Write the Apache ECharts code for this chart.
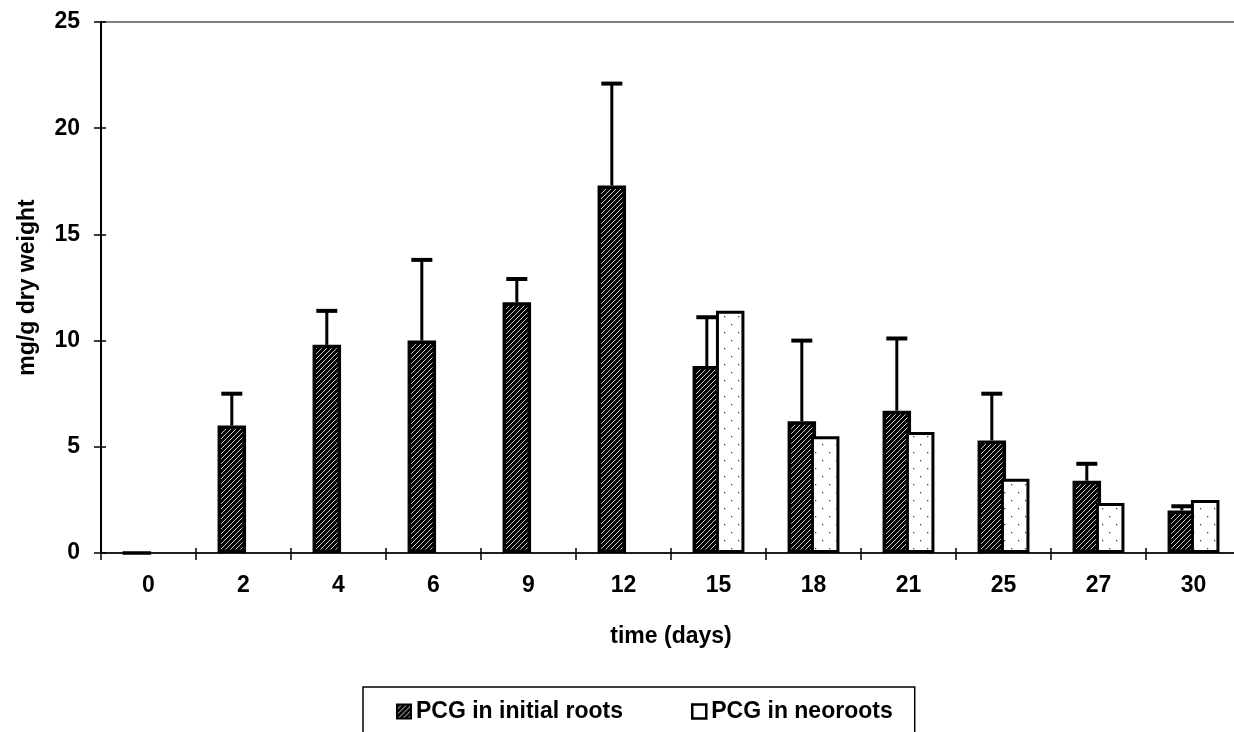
<!DOCTYPE html>
<html>
<head>
<meta charset="utf-8">
<script src="https://cdn.jsdelivr.net/npm/echarts@6/dist/echarts.min.js"></script>
<style>
html,body{margin:0;padding:0;background:#fff;}
#chart{width:1234px;height:732px;}
</style>
</head>
<body>
<div id="chart"></div>
<script>
// ---- data ----
const days = ['0','2','4','6','9','12','15','18','21','25','27','30'];
const initialRoots = [0, 6.0, 9.8, 10.0, 11.8, 17.3, 8.8, 6.2, 6.7, 5.3, 3.4, 2.0];
const initialRootsErrTop = [null, 7.5, 11.4, 13.8, 12.9, 22.1, 11.1, 10.0, 10.1, 7.5, 4.2, 2.2];
const neoRoots = [null, null, null, null, null, null, 11.4, 5.5, 5.7, 3.5, 2.35, 2.5];
const yTicks = [0, 5, 10, 15, 20, 25];
const seriesNames = ['PCG in initial roots', 'PCG in neoroots'];

// ---- patterns ----
function hatchPattern() {
  const c = document.createElement('canvas');
  c.width = 5; c.height = 5;
  const g = c.getContext('2d');
  g.fillStyle = '#000'; g.fillRect(0, 0, 5, 5);
  g.strokeStyle = '#eee'; g.lineWidth = 0.85;
  g.beginPath();
  g.moveTo(0, 5); g.lineTo(5, 0);
  g.moveTo(-1, 1); g.lineTo(1, -1);
  g.moveTo(4, 6); g.lineTo(6, 4);
  g.stroke();
  return c;
}
function dotPattern() {
  const c = document.createElement('canvas');
  c.width = 14; c.height = 16;
  const g = c.getContext('2d');
  g.fillStyle = '#fff'; g.fillRect(0, 0, 14, 16);
  g.fillStyle = '#444';
  g.fillRect(3, 4, 1.3, 1.3);
  g.fillRect(10, 12, 1.3, 1.3);
  return c;
}
const darkFill = { image: hatchPattern(), repeat: 'repeat' };
const lightFill = { image: dotPattern(), repeat: 'repeat' };

const FONT = '"Liberation Sans", Arial, sans-serif';
const FS = 23;
const barW = 28.5;
const barGap = -0.18;
const errOffset = barW * (1 + barGap) / 2;

const chart = echarts.init(document.getElementById('chart'), null, { renderer: 'canvas' });

const errData = days.map((d, i) => [i, initialRoots[i], initialRootsErrTop[i]])
  .filter(r => r[2] != null);

const yMin = yTicks[0], yMax = yTicks[yTicks.length - 1], yStep = yTicks[1] - yTicks[0];

chart.setOption({
  animation: false,
  backgroundColor: '#fff',
  textStyle: { fontFamily: FONT, fontWeight: 'bold', color: '#000' },
  grid: {
    left: 101, width: 1140, top: 22, height: 531,
    outerBoundsMode: 'none',
    show: true, borderColor: '#000', borderWidth: 1.2, containLabel: false
  },
  legend: {
    left: 363, top: 687,
    orient: 'horizontal',
    itemWidth: 14, itemHeight: 14, itemGap: 68,
    padding: [13, 22, 20, 33],
    borderColor: '#000', borderWidth: 1.5,
    icon: 'rect',
    textStyle: { fontFamily: FONT, fontWeight: 'bold', fontSize: FS, color: '#000' },
    data: [
      { name: seriesNames[0], itemStyle: { color: darkFill, borderColor: '#000', borderWidth: 2 } },
      { name: seriesNames[1], itemStyle: { color: '#fff', borderColor: '#000', borderWidth: 2.5 } }
    ]
  },
  xAxis: [{
    type: 'category',
    data: days,
    boundaryGap: true,
    name: 'time (days)',
    nameLocation: 'middle',
    nameGap: 72,
    nameTextStyle: { fontFamily: FONT, fontWeight: 'bold', fontSize: FS, color: '#000' },
    axisLine: { lineStyle: { color: '#000', width: 1.5 } },
    axisTick: { show: true, interval: 0, length: 7, lineStyle: { color: '#000', width: 1.5 } },
    axisLabel: { interval: 0, margin: 21, fontFamily: FONT, fontWeight: 'bold', fontSize: FS, color: '#000' },
    splitLine: { show: false }
  }, {
    type: 'category',
    data: days,
    position: 'bottom',
    boundaryGap: true,
    axisLine: { show: false },
    axisTick: { show: true, inside: true, interval: 0, length: 5, lineStyle: { color: '#000', width: 1.5 } },
    axisLabel: { show: false },
    splitLine: { show: false }
  }],
  yAxis: [{
    type: 'value',
    min: yMin, max: yMax, interval: yStep,
    name: 'mg/g dry weight',
    nameLocation: 'middle',
    nameGap: 62,
    nameTextStyle: { fontFamily: FONT, fontWeight: 'bold', fontSize: FS, color: '#000' },
    axisLine: { show: true, lineStyle: { color: '#000', width: 2 } },
    axisTick: { show: true, length: 7, lineStyle: { color: '#000', width: 1.5 } },
    axisLabel: { margin: 21, fontFamily: FONT, fontWeight: 'bold', fontSize: FS, color: '#000' },
    splitLine: { show: false }
  }, {
    type: 'value',
    position: 'left',
    min: yMin, max: yMax, interval: yStep,
    axisLine: { show: false },
    axisTick: { show: true, inside: true, length: 5, lineStyle: { color: '#000', width: 1.5 } },
    axisLabel: { show: false },
    splitLine: { show: false }
  }],
  series: [
    {
      name: seriesNames[0],
      type: 'bar',
      data: initialRoots,
      barWidth: barW,
      barGap: (barGap * 100) + '%',
      itemStyle: { color: darkFill, borderColor: '#000', borderWidth: 3.5 },
      z: 2
    },
    {
      name: 'err',
      type: 'custom',
      data: errData,
      z: 2,
      renderItem: function (params, api) {
        const i = api.value(0);
        const base = api.coord([i, api.value(1)]);
        const top = api.coord([i, api.value(2)]);
        const x = base[0] - errOffset;
        return {
          type: 'group',
          children: [
            { type: 'line', shape: { x1: x, y1: base[1], x2: x, y2: top[1] }, style: { stroke: '#000', lineWidth: 3 } },
            { type: 'line', shape: { x1: x - 10.5, y1: top[1], x2: x + 10.5, y2: top[1] }, style: { stroke: '#000', lineWidth: 4 } }
          ]
        };
      }
    },
    {
      name: seriesNames[1],
      type: 'bar',
      data: neoRoots,
      barWidth: barW,
      itemStyle: { color: lightFill, borderColor: '#000', borderWidth: 3 },
      z: 2
    }
  ]
});
</script>
</body>
</html>
